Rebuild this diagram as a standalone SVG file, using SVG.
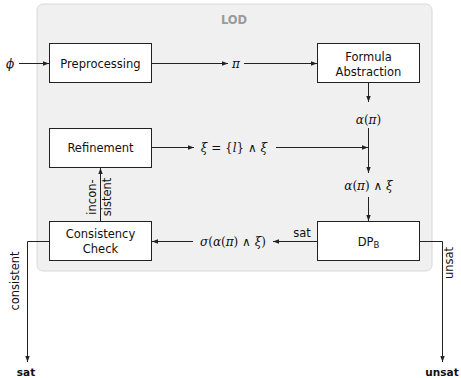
<svg xmlns="http://www.w3.org/2000/svg" width="461" height="378" viewBox="0 0 461 378">
<defs>
<marker id="ah" viewBox="0 0 6 6" refX="6" refY="3" markerWidth="6" markerHeight="6" markerUnits="userSpaceOnUse" orient="auto">
<path d="M0,0.8 L6,3 L0,5.2 Z" fill="#222"/>
</marker>
<style>
.box{fill:#fff;stroke:#222;stroke-width:1}
.t{font-family:"DejaVu Sans",sans-serif;font-size:11.5px;fill:#111;text-anchor:middle}
.m{font-family:"DejaVu Serif","Liberation Serif",serif;font-size:12px;fill:#111;text-anchor:middle}
.i{font-style:italic}
.b{font-family:"DejaVu Sans",sans-serif;font-size:10.5px;font-weight:bold;fill:#111;text-anchor:middle}
.c{fill:none;stroke:#222;stroke-width:1}
.a{marker-end:url(#ah)}
</style>
</defs>
<g id="lod">
<rect x="37" y="4" width="395" height="267" rx="6" fill="#f0f0f0" stroke="#d8d8d8" stroke-width="1"/>
<text x="234" y="24" font-family="DejaVu Sans,sans-serif" font-size="11.5" font-weight="bold" fill="#9a9a9a" text-anchor="middle">LOD</text>
</g>
<g id="preprocessing">
<rect class="box" x="49.5" y="43.5" width="102" height="39"/>
<text class="t" x="100.5" y="67.5">Preprocessing</text>
</g>
<g id="formula-abstraction">
<rect class="box" x="317.5" y="43.5" width="102" height="39"/>
<text class="t" x="368.5" y="60.5">Formula</text>
<text class="t" x="368.5" y="75.5">Abstraction</text>
</g>
<g id="refinement">
<rect class="box" x="49.5" y="128.5" width="102" height="39"/>
<text class="t" x="100.5" y="152">Refinement</text>
</g>
<g id="consistency-check">
<rect class="box" x="49.5" y="221.5" width="102" height="39"/>
<text class="t" x="100.5" y="238">Consistency</text>
<text class="t" x="100.5" y="252.5">Check</text>
</g>
<g id="dpb">
<rect class="box" x="317.5" y="221.5" width="102" height="39"/>
<text class="t" x="368.5" y="245.5" font-size="12">DP<tspan font-size="8.5" dy="2">B</tspan></text>
</g>
<g id="connectors">
<path class="c a" d="M19,63.5 H49"/>
<path class="c a" d="M151.5,63.5 H228"/>
<path class="c a" d="M244,63.5 H317"/>
<path class="c a" d="M368.5,83 V102"/>
<path class="c a" d="M368.5,128 V173"/>
<path class="c a" d="M368.5,197 V221"/>
<path class="c a" d="M151.5,147.5 H194"/>
<path class="c a" d="M276,147.5 H368"/>
<path class="c a" d="M317,241.5 H273"/>
<path class="c a" d="M193,241.5 H152"/>
<path class="c a" d="M100.5,221 V168"/>
<path class="c a" d="M49,241.5 H27.5 V362"/>
<path class="c a" d="M420,241.5 H442.5 V362"/>
</g>
<g id="labels">
<text class="m i" x="10" y="67.5">ϕ</text>
<text class="m i" x="236" y="67.5">π</text>
<text class="m" x="368.5" y="124"><tspan class="i">α</tspan>(<tspan class="i">π</tspan>)</text>
<text class="m" x="368.5" y="189.5"><tspan class="i">α</tspan>(<tspan class="i">π</tspan>) ∧ <tspan class="i">ξ</tspan></text>
<text class="m" x="234" y="152"><tspan class="i">ξ</tspan> = {<tspan class="i">l</tspan>} ∧ <tspan class="i">ξ</tspan></text>
<text class="m" x="233" y="245.5"><tspan class="i">σ</tspan>(<tspan class="i">α</tspan>(<tspan class="i">π</tspan>) ∧ <tspan class="i">ξ</tspan>)</text>
<text class="t" x="302" y="237">sat</text>
<text class="t" transform="translate(96,197) rotate(-90)">incon-</text>
<text class="t" transform="translate(111,197) rotate(-90)">sistent</text>
<text class="t" transform="translate(19,281) rotate(-90)">consistent</text>
<text class="t" transform="translate(453,263) rotate(-90)">unsat</text>
<text class="b" x="26" y="376">sat</text>
<text class="b" x="442" y="376">unsat</text>
</g>
</svg>
